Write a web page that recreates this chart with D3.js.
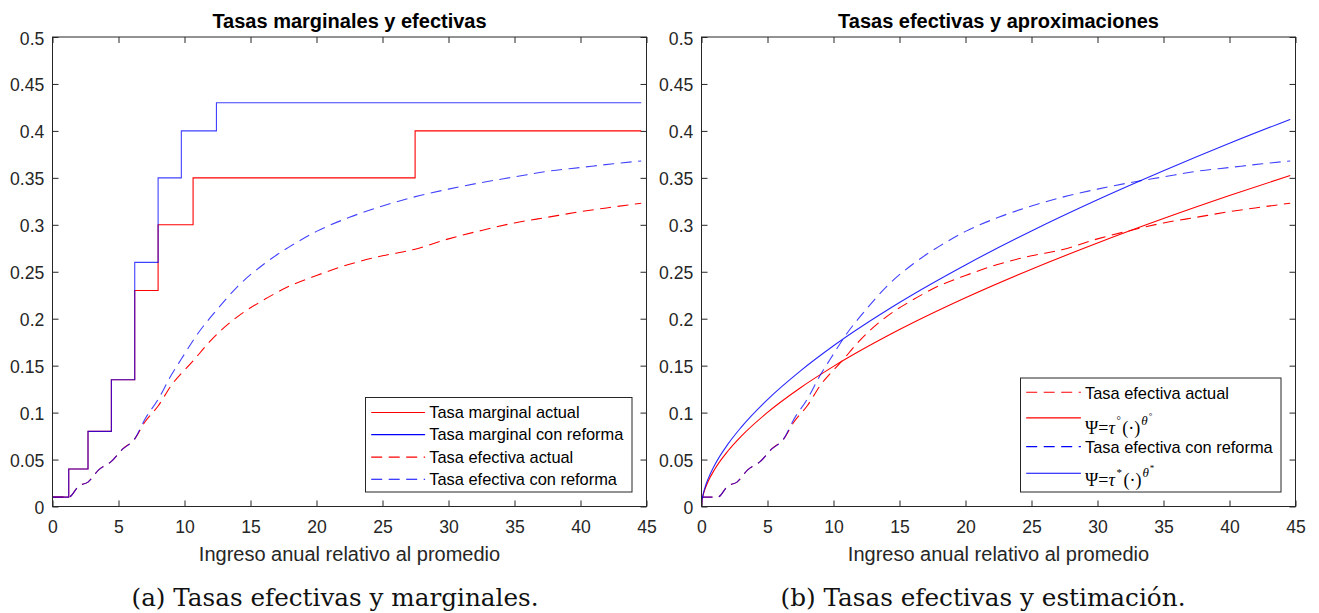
<!DOCTYPE html>
<html>
<head>
<meta charset="utf-8">
<script src="https://cdn.jsdelivr.net/npm/d3@7"></script>
<style>
  html, body { margin: 0; padding: 0; background: #fff; }
  svg { display: block; }
</style>
</head>
<body>
<svg id="fig" width="1319" height="613"></svg>
<script>
// ---- Axis ticks ----
const xTickValues = [0, 5, 10, 15, 20, 25, 30, 35, 40, 45];
const xTickLabels = ["0", "5", "10", "15", "20", "25", "30", "35", "40", "45"];
const yTickValues = [0, 0.05, 0.1, 0.15, 0.2, 0.25, 0.3, 0.35, 0.4, 0.45, 0.5];
const yTickLabels = ["0", "0.05", "0.1", "0.15", "0.2", "0.25", "0.3", "0.35", "0.4", "0.45", "0.5"];

// ---- Marginal rates by bracket (income relative to the mean) ----
const bracketsActual = [0, 1.23, 2.69, 4.46, 6.23, 8.0, 10.65, 27.47, 44.6];
const marginalActual = [0.01, 0.04, 0.08, 0.135, 0.23, 0.30, 0.35, 0.40, 0.40];
const bracketsReform = [0, 1.23, 2.69, 4.46, 6.23, 8.0, 9.76, 12.42, 44.6];
const marginalReform = [0.01, 0.04, 0.08, 0.135, 0.26, 0.35, 0.40, 0.43, 0.43];

// ---- Effective rates ----
const effIncomeActual = [0, 1.23, 2, 2.69, 3.5, 4.46, 5.3, 6.23, 7, 8, 9, 10.65, 12, 14, 16, 18, 20, 22.5, 25, 27.47, 30, 32.5, 35, 37.5, 40, 42.5, 44.6];
const effActual       = [0.010, 0.010, 0.022, 0.026, 0.039, 0.048, 0.061, 0.072, 0.090, 0.107, 0.129, 0.155, 0.177, 0.202, 0.220, 0.235, 0.246, 0.258, 0.267, 0.274, 0.285, 0.294, 0.302, 0.308, 0.314, 0.319, 0.323];
const effIncomeReform = [0, 1.23, 2, 2.69, 3.5, 4.46, 5.3, 6.23, 7, 8, 9, 9.76, 11, 12.42, 14, 16, 18, 20, 22.5, 25, 27.5, 30, 32.5, 35, 37.5, 40, 42.5, 44.6];
const effReform       = [0.010, 0.010, 0.022, 0.026, 0.039, 0.048, 0.061, 0.072, 0.093, 0.114, 0.140, 0.157, 0.184, 0.209, 0.234, 0.258, 0.277, 0.293, 0.308, 0.320, 0.330, 0.338, 0.345, 0.351, 0.357, 0.361, 0.365, 0.368];

// ---- Fitted approximations Psi = tau (.)^theta ----
const psiIncome = [0, 0.03, 0.1, 0.25, 0.5, 1, 2, 3, 5, 7.5, 10, 15, 20, 25, 30, 35, 40, 44.6];
const psiActual = [0, 0.0053, 0.0106, 0.0179, 0.0267, 0.0397, 0.0591, 0.0747, 0.1002, 0.1265, 0.1492, 0.1884, 0.2223, 0.2527, 0.2806, 0.3066, 0.3311, 0.3525];
const psiReform = [0, 0.0056, 0.0114, 0.0196, 0.0294, 0.0442, 0.0664, 0.0843, 0.1139, 0.1445, 0.1712, 0.2173, 0.2573, 0.2934, 0.3266, 0.3575, 0.3868, 0.4123];

// ---- Text ----
const titles = ["Tasas marginales y efectivas", "Tasas efectivas y aproximaciones"];
const xLabel = "Ingreso anual relativo al promedio";
const captions = ["(a) Tasas efectivas y marginales.", "(b) Tasas efectivas y estimación."];
const legendLeft = ["Tasa marginal actual", "Tasa marginal con reforma", "Tasa efectiva actual", "Tasa efectiva con reforma"];
const legendRightText = ["Tasa efectiva actual", "Tasa efectiva con reforma"];

const RED = "#ff0000", BLUE = "#0000ff";
const SANS = "'Liberation Sans', Arial, Helvetica, sans-serif";
const SERIF = "'Liberation Serif', 'Times New Roman', serif";
const CAPTION_FONT = "'DejaVu Serif', serif";
const AX = "#262626";
const DASH = "11,6.5";

const svg = d3.select("#fig");
const zip = (xs, ys) => xs.map((x, i) => [x, ys[i]]);

const panels = [
  { left: 52.5, right: 646.5, capX: 335, capLen: 407 },
  { left: 701.5, right: 1295.5, capX: 983, capLen: 405 }
];
const plotTop = 37, plotBottom = 506.5;

function makePanel(p, idx) {
  const x = d3.scaleLinear().domain([0, 45]).range([p.left, p.right]);
  const y = d3.scaleLinear().domain([0, 0.5]).range([plotBottom, plotTop]);
  const g = svg.append("g");

  g.append("rect").attr("x", p.left).attr("y", plotTop)
    .attr("width", p.right - p.left).attr("height", plotBottom - plotTop).attr("fill", "#fff");

  // axes with inward ticks on all four sides
  const axB = g.append("g").attr("transform", `translate(0,${plotBottom})`)
    .call(d3.axisBottom(x).tickValues(xTickValues).tickSizeInner(-6).tickSizeOuter(0)
      .tickFormat((d, i) => xTickLabels[i]));
  const axT = g.append("g").attr("transform", `translate(0,${plotTop})`)
    .call(d3.axisTop(x).tickValues(xTickValues).tickSizeInner(-6).tickSizeOuter(0).tickFormat(""));
  const axL = g.append("g").attr("transform", `translate(${p.left},0)`)
    .call(d3.axisLeft(y).tickValues(yTickValues).tickSizeInner(-6).tickSizeOuter(0)
      .tickFormat((d, i) => yTickLabels[i]));
  const axR = g.append("g").attr("transform", `translate(${p.right},0)`)
    .call(d3.axisRight(y).tickValues(yTickValues).tickSizeInner(-6).tickSizeOuter(0).tickFormat(""));
  [axB, axT, axL, axR].forEach(a => {
    a.select(".domain").remove();
    a.selectAll(".tick line").attr("stroke", AX).attr("stroke-width", 1);
  });
  axB.selectAll(".tick text").attr("y", 26).attr("dy", 0)
    .attr("font-family", SANS).attr("font-size", 17.6).attr("fill", AX);
  axL.selectAll(".tick text").attr("x", -8.2).attr("dy", "0.4em")
    .attr("font-family", SANS).attr("font-size", 17.6).attr("fill", AX);
  axT.selectAll(".tick text").remove();
  axR.selectAll(".tick text").remove();

  // title, axis label, caption
  g.append("text").attr("x", (p.left + p.right) / 2).attr("y", 28)
    .attr("text-anchor", "middle").attr("font-family", SANS).attr("font-weight", "bold")
    .attr("font-size", 20).attr("fill", "#000").text(titles[idx]);
  g.append("text").attr("x", (p.left + p.right) / 2).attr("y", 560.5)
    .attr("text-anchor", "middle").attr("font-family", SANS)
    .attr("font-size", 20).attr("fill", AX).text(xLabel);
  g.append("text").attr("x", p.capX).attr("y", 606)
    .attr("text-anchor", "middle").attr("font-family", CAPTION_FONT)
    .attr("font-size", 24.4).attr("fill", "#111")
    .attr("textLength", p.capLen).attr("lengthAdjust", "spacingAndGlyphs")
    .text(captions[idx]);

  return { g, x, y };
}

function drawLine(g, pts, x, y, color, dashed, curve, opacity) {
  const line = d3.line().x(d => x(d[0])).y(d => y(d[1])).curve(curve);
  g.append("path").datum(pts).attr("d", line)
    .attr("fill", "none").attr("stroke", color).attr("stroke-width", 1.1)
    .attr("stroke-opacity", opacity)
    .attr("stroke-dasharray", dashed ? DASH : null);
}

function drawBox(g, p) {
  g.append("rect").attr("x", p.left).attr("y", plotTop)
    .attr("width", p.right - p.left).attr("height", plotBottom - plotTop)
    .attr("fill", "none").attr("stroke", AX).attr("stroke-width", 1);
}

// ---------- Panel (a) ----------
{
  const p = panels[0];
  const { g, x, y } = makePanel(p, 0);
  drawLine(g, zip(bracketsActual, marginalActual), x, y, RED, false, d3.curveStepAfter, 1);
  drawLine(g, zip(bracketsReform, marginalReform), x, y, BLUE, false, d3.curveStepAfter, 0.75);
  drawLine(g, zip(effIncomeActual, effActual), x, y, RED, true, d3.curveMonotoneX, 1);
  drawLine(g, zip(effIncomeReform, effReform), x, y, BLUE, true, d3.curveMonotoneX, 0.75);
  drawBox(g, p);

  // legend
  const lg = g.append("g");
  lg.append("rect").attr("x", 365.5).attr("y", 397.5).attr("width", 266.5).attr("height", 94.5)
    .attr("fill", "#fff").attr("stroke", AX).attr("stroke-width", 1);
  const rowsY = [412.5, 434.6, 457.1, 479.3];
  const styles = [[RED, false], [BLUE, false], [RED, true], [BLUE, true]];
  legendLeft.forEach((t, i) => {
    lg.append("line").attr("x1", 371.2).attr("x2", 425.1).attr("y1", rowsY[i]).attr("y2", rowsY[i])
      .attr("stroke", styles[i][0]).attr("stroke-width", 1.1)
      .attr("stroke-dasharray", styles[i][1] ? DASH : null);
    lg.append("text").attr("x", 429.3).attr("y", rowsY[i] + 5.8)
      .attr("font-family", SANS).attr("font-size", 16.4).attr("fill", "#000").text(t);
  });
}

// ---------- Panel (b) ----------
{
  const p = panels[1];
  const { g, x, y } = makePanel(p, 1);
  drawLine(g, zip(effIncomeActual, effActual), x, y, RED, true, d3.curveMonotoneX, 1);
  drawLine(g, zip(psiIncome, psiActual), x, y, RED, false, d3.curveMonotoneX, 1);
  drawLine(g, zip(effIncomeReform, effReform), x, y, BLUE, true, d3.curveMonotoneX, 0.75);
  drawLine(g, zip(psiIncome, psiReform), x, y, BLUE, false, d3.curveMonotoneX, 0.85);
  drawBox(g, p);

  // legend
  const lg = g.append("g");
  lg.append("rect").attr("x", 1020.5).attr("y", 378).attr("width", 260.5).attr("height", 114)
    .attr("fill", "#fff").attr("stroke", AX).attr("stroke-width", 1);
  const lx1 = 1026.2, lx2 = 1080.9, tx = 1085;
  const items = [
    { yLine: 392.3, color: RED, dashed: true, text: legendRightText[0], yText: 398.6 },
    { yLine: 417.9, color: RED, dashed: false, mark: "°", yText: 434 },
    { yLine: 446.6, color: BLUE, dashed: true, text: legendRightText[1], yText: 452.8 },
    { yLine: 473.2, color: BLUE, dashed: false, mark: "*", yText: 486.4 }
  ];
  items.forEach(it => {
    lg.append("line").attr("x1", lx1).attr("x2", lx2).attr("y1", it.yLine).attr("y2", it.yLine)
      .attr("stroke", it.color).attr("stroke-width", 1.1)
      .attr("stroke-dasharray", it.dashed ? DASH : null);
    if (it.text) {
      lg.append("text").attr("x", tx).attr("y", it.yText)
        .attr("font-family", SANS).attr("font-size", 16.4).attr("fill", "#000").text(it.text);
    } else {
      const t = lg.append("text").attr("x", tx).attr("y", it.yText)
        .attr("font-family", SERIF).attr("font-size", 18).attr("fill", "#000");
      t.append("tspan").text("Ψ=");
      t.append("tspan").attr("font-style", "italic").text("τ");
      t.append("tspan").attr("font-size", 11).attr("dy", -10).attr("dx", 1.5).text(it.mark);
      t.append("tspan").attr("dy", 10).attr("dx", 1.5).text("(·)");
      t.append("tspan").attr("font-style", "italic").attr("font-size", 13).attr("dy", -9).attr("dx", 1).text("θ");
      t.append("tspan").attr("font-size", 9).attr("dy", -6).attr("dx", 1).text(it.mark);
    }
  });
}
</script>
</body>
</html>
